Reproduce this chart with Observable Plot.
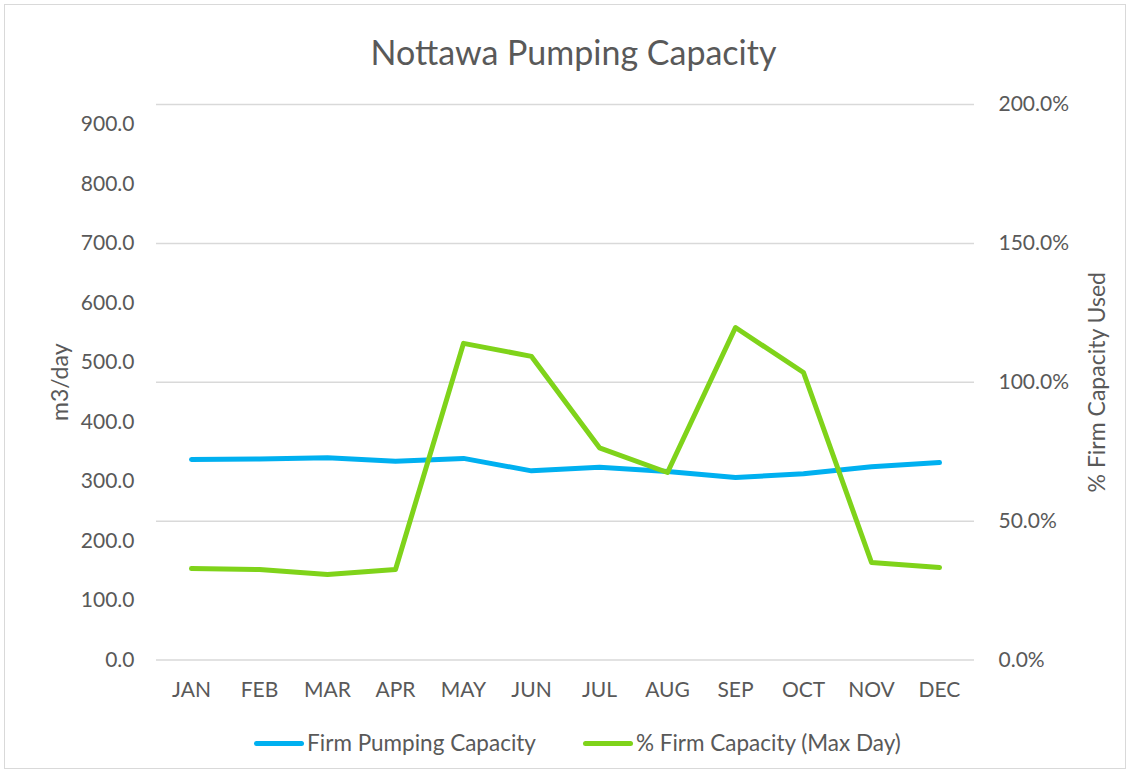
<!DOCTYPE html>
<html>
<head>
<meta charset="utf-8">
<script src="https://cdn.jsdelivr.net/npm/d3@7"></script>
<script src="https://cdn.jsdelivr.net/npm/@observablehq/plot@0.6"></script>
<style>
  html, body { margin: 0; padding: 0; background: #fff; }
  body { width: 1131px; height: 774px; position: relative; overflow: hidden; font-family: Lato, "Open Sans", sans-serif; color: #595959; }
  #frame { position: absolute; left: 4px; top: 4px; width: 1122px; height: 765px; border: 1px solid #d9d9d9; box-sizing: border-box; }
  #title { position: absolute; left: 8px; width: 1131px; top: 29px; text-align: center; font-size: 34px; line-height: 46px; color: #595959; }
  #chart { position: absolute; left: 0; top: 0; }
  #legend { position: absolute; left: 12px; width: 1131px; top: 728px; display: flex; justify-content: center; align-items: center; font-size: 22.5px; line-height: 30px; color: #595959; }
  .item { display: flex; align-items: center; }
  .sw { width: 50px; height: 5px; border-radius: 3px; margin-right: 3px; }
  .gap { width: 47px; }
</style>
</head>
<body>
<div id="frame"></div>
<div id="chart"></div>
<div id="title">Nottawa Pumping Capacity</div>
<div id="legend"></div>
<script>
const months = ["JAN","FEB","MAR","APR","MAY","JUN","JUL","AUG","SEP","OCT","NOV","DEC"];
const firmCapacity = [337, 338, 340, 334, 339, 318, 324, 317, 307, 313, 325, 332];
const pctUsed = [32.9, 32.6, 30.8, 32.6, 114.0, 109.3, 76.4, 67.5, 119.7, 103.5, 35.1, 33.3];
const leftTicks = [0, 100, 200, 300, 400, 500, 600, 700, 800, 900];
const rightTicks = [0, 50, 100, 150, 200];
const seriesNames = ["Firm Pumping Capacity", "% Firm Capacity (Max Day)"];
const colors = ["#00b0f0", "#7fd31a"];

const leftMax = 934;          // left axis top
const k = leftMax / 200;      // right axis (0–200%) mapped onto left scale

const blue = months.map((m, i) => ({month: m, v: firmCapacity[i]}));
const green = months.map((m, i) => ({month: m, v: pctUsed[i] * k}));

const textColor = "#595959";
const chart = Plot.plot({
  width: 1131,
  height: 774,
  marginTop: 104,
  marginBottom: 114.5,
  marginLeft: 156,
  marginRight: 157,
  style: {fontFamily: "Lato, 'Open Sans', sans-serif", color: textColor, background: "transparent", overflow: "visible"},
  x: {type: "band", domain: months, padding: 0},
  y: {domain: [0, leftMax]},
  marks: [
    Plot.ruleY(rightTicks.map(p => p * k), {stroke: "#d9d9d9", strokeWidth: 1.5}),
    Plot.axisY(leftTicks, {anchor: "left", tickSize: 0, tickPadding: 22, tickFormat: d => d.toFixed(1), fontSize: 21, fill: textColor, label: null}),
    Plot.axisY(rightTicks.map(p => p * k), {anchor: "right", tickSize: 0, tickPadding: 24, tickFormat: d => (d / k).toFixed(1) + "%", fontSize: 21, fill: textColor, label: null}),
    Plot.axisX({tickSize: 0, tickPadding: 22, fontSize: 21, fill: textColor, label: null}),
    Plot.text(["m3/day"], {frameAnchor: "left", textAnchor: "middle", dx: -96, rotate: -90, fontSize: 23, fill: textColor}),
    Plot.text(["% Firm Capacity Used"], {frameAnchor: "right", textAnchor: "middle", dx: 123, rotate: -90, fontSize: 23, fill: textColor}),
    Plot.line(blue, {x: "month", y: "v", stroke: colors[0], strokeWidth: 5, strokeLinecap: "round", strokeLinejoin: "round"}),
    Plot.line(green, {x: "month", y: "v", stroke: colors[1], strokeWidth: 5, strokeLinecap: "round", strokeLinejoin: "round"})
  ]
});
document.getElementById("chart").appendChild(chart);

const legend = document.getElementById("legend");
seriesNames.forEach((name, i) => {
  if (i > 0) { const g = document.createElement("div"); g.className = "gap"; legend.appendChild(g); }
  const it = document.createElement("div"); it.className = "item";
  const sw = document.createElement("div"); sw.className = "sw"; sw.style.background = colors[i];
  const tx = document.createElement("span"); tx.textContent = name;
  it.appendChild(sw); it.appendChild(tx); legend.appendChild(it);
});
</script>
</body>
</html>
